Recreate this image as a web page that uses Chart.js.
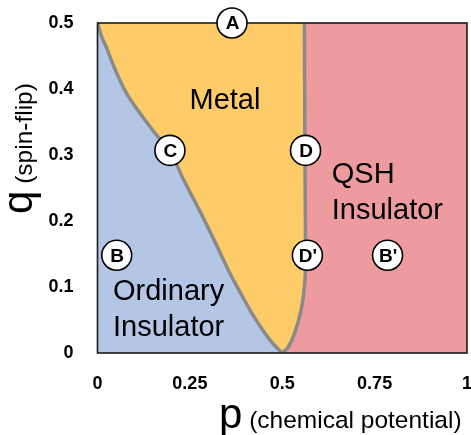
<!DOCTYPE html>
<html>
<head>
<meta charset="utf-8">
<script src="https://cdn.jsdelivr.net/npm/chart.js@4.4.1/dist/chart.umd.min.js"></script>
<style>
  html, body { margin: 0; padding: 0; background: #ffffff; }
  #wrap { width: 471px; height: 435px; }
</style>
</head>
<body>
<div id="wrap"><canvas id="phase" width="471" height="435"></canvas></div>
<script>
// Phase diagram in the (p, q) plane: chemical potential vs spin-flip strength.

// Boundary between the ordinary insulator and the metal (p, q)
const insulatorEdgeP = [0, 0.012, 0.025, 0.04, 0.06, 0.079, 0.1, 0.13, 0.16, 0.196, 0.23, 0.277, 0.32, 0.358, 0.39, 0.42, 0.448, 0.475, 0.5];
const insulatorEdgeQ = [0.5, 0.478, 0.462, 0.44, 0.414, 0.393, 0.375, 0.352, 0.33, 0.307, 0.266, 0.215, 0.166, 0.121, 0.088, 0.058, 0.034, 0.014, 0];

// Boundary between the metal and the QSH insulator (p, q)
const qshEdgeP = [0.5, 0.515, 0.53, 0.542, 0.552, 0.558, 0.562, 0.563, 0.562, 0.561, 0.56];
const qshEdgeQ = [0, 0.008, 0.025, 0.045, 0.068, 0.09, 0.115, 0.15, 0.25, 0.35, 0.5];

// Labelled points of the diagram
const pointNames = ['A', 'B', 'C', 'D', "D'", "B'"];
const pointP = [0.364, 0.052, 0.196, 0.563, 0.568, 0.785];
const pointQ = [0.5, 0.148, 0.307, 0.307, 0.148, 0.148];

// Axis ranges and ticks
const pRange = [0, 1];
const qRange = [0, 0.5];
const pTickValues = [0, 0.25, 0.5, 0.75, 1];
const pTickLabels = ['0', '0.25', '0.5', '0.75', '1'];
const qTickValues = [0, 0.1, 0.2, 0.3, 0.4, 0.5];
const qTickLabels = ['0', '0.1', '0.2', '0.3', '0.4', '0.5'];

const COLORS = {
  insulator: '#b4c6e6',
  metal: '#fecb69',
  qsh: '#ee9b9f',
  edge: '#8a8a8a',
  frame: '#1a1a1a'
};
const FONT = '"Liberation Sans", Arial, Helvetica, sans-serif';

const zip = (xs, ys) => xs.map((x, i) => ({ x, y: ys[i] }));

const insulatorEdge = zip(insulatorEdgeP, insulatorEdgeQ);
const qshEdge = zip(qshEdgeP, qshEdgeQ);
// QSH region: right boundary, then along the top to p = 1, filled down to q = 0
const lastEdge = qshEdge[qshEdge.length - 1];
const qshRegion = qshEdge.concat([
  { x: lastEdge.x + 0.004, y: qRange[1] },
  { x: pRange[1], y: qRange[1] }
]);
const fullTop = [{ x: pRange[0], y: qRange[1] }, { x: pRange[1], y: qRange[1] }];
const markers = zip(pointP, pointQ);

// Region names, anchored (first baseline) in data coordinates
const regionLabels = [
  { lines: ['Metal'], p: 0.345, q: 0.369, align: 'center' },
  { lines: ['QSH', 'Insulator'], p: 0.634, q: 0.258, align: 'left' },
  { lines: ['Ordinary', 'Insulator'], p: 0.042, q: 0.08, align: 'left' }
];

const diagramPlugin = {
  id: 'diagram',
  beforeDatasetDraw(chart, args) {
    // the frame sits below the lettered markers
    if (args.index !== 0) return;
    const a = chart.chartArea;
    const ctx = chart.ctx;
    ctx.save();
    ctx.strokeStyle = COLORS.frame;
    ctx.lineWidth = 1.6;
    ctx.strokeRect(a.left, a.top, a.right - a.left, a.bottom - a.top);
    ctx.restore();
  },
  afterDatasetsDraw(chart) {
    const ctx = chart.ctx;
    const xs = chart.scales.x, ys = chart.scales.y;
    ctx.save();
    // region names
    ctx.fillStyle = '#000';
    ctx.font = '29px ' + FONT;
    ctx.textBaseline = 'alphabetic';
    regionLabels.forEach(l => {
      ctx.textAlign = l.align;
      const x = xs.getPixelForValue(l.p);
      const y = ys.getPixelForValue(l.q);
      l.lines.forEach((t, i) => ctx.fillText(t, x, y + i * 36));
    });
    // letters in the markers
    const meta = chart.getDatasetMeta(0);
    ctx.font = 'bold 19px ' + FONT;
    ctx.textAlign = 'center';
    ctx.textBaseline = 'middle';
    meta.data.forEach((pt, i) => ctx.fillText(pointNames[i], pt.x + 0.5, pt.y + 1));
    ctx.restore();
  },
  afterDraw(chart) {
    // axis titles: large symbol followed by a smaller description
    const ctx = chart.ctx;
    ctx.save();
    ctx.fillStyle = '#000';
    ctx.textBaseline = 'alphabetic';
    ctx.textAlign = 'left';
    // horizontal title
    const bx = 219, by = 428;
    ctx.font = '42px ' + FONT;
    ctx.fillText('p', bx, by);
    const pw = ctx.measureText('p').width;
    ctx.font = '24.5px ' + FONT;
    ctx.fillText(' (chemical potential)', bx + pw, by);
    // vertical title
    ctx.translate(32, 214);
    ctx.rotate(-Math.PI / 2);
    ctx.font = '42px ' + FONT;
    ctx.fillText('q', 0, 0);
    const qw = ctx.measureText('q').width;
    ctx.font = '24.5px ' + FONT;
    ctx.fillText(' (spin-flip)', qw, 0);
    ctx.restore();
  }
};

new Chart(document.getElementById('phase'), {
  type: 'line',
  data: {
    datasets: [
      {
        label: 'points',
        data: markers,
        showLine: false,
        pointRadius: 15,
        pointHoverRadius: 15,
        pointBackgroundColor: '#ffffff',
        pointBorderColor: '#000000',
        pointBorderWidth: 1.6,
        clip: false,
        order: 1
      },
      {
        label: 'insulator edge',
        data: insulatorEdge,
        borderColor: COLORS.edge,
        borderWidth: 3.5,
        pointRadius: 0,
        tension: 0.3,
        fill: false,
        borderCapStyle: 'round',
        order: 2
      },
      {
        label: 'qsh edge',
        data: qshEdge,
        borderColor: COLORS.edge,
        borderWidth: 3.5,
        pointRadius: 0,
        tension: 0.3,
        fill: false,
        borderCapStyle: 'round',
        order: 2
      },
      {
        label: 'ordinary insulator',
        data: insulatorEdge,
        borderWidth: 0,
        pointRadius: 0,
        tension: 0.3,
        backgroundColor: COLORS.insulator,
        fill: 'origin',
        order: 3
      },
      {
        label: 'qsh insulator',
        data: qshRegion,
        borderWidth: 0,
        pointRadius: 0,
        tension: 0.3,
        backgroundColor: COLORS.qsh,
        fill: 'origin',
        order: 3
      },
      {
        label: 'metal',
        data: fullTop,
        borderWidth: 0,
        pointRadius: 0,
        backgroundColor: COLORS.metal,
        fill: 'origin',
        order: 4
      }
    ]
  },
  options: {
    responsive: false,
    animation: false,
    events: [],
    layout: { autoPadding: false, padding: { left: 0, top: 23, right: 4, bottom: 0 } },
    plugins: { legend: { display: false }, tooltip: { enabled: false } },
    scales: {
      x: {
        type: 'linear',
        min: pRange[0],
        max: pRange[1],
        grid: { display: false },
        border: { display: false },
        afterBuildTicks: s => { s.ticks = pTickValues.map(v => ({ value: v })); },
        afterFit: s => { s.height = 82; s.paddingLeft = 0; s.paddingRight = 0; },
        ticks: {
          padding: 12,
          maxRotation: 0,
          autoSkip: false,
          color: '#000',
          font: { family: FONT, size: 18, weight: 'bold' },
          callback: (v, i) => pTickLabels[i]
        }
      },
      y: {
        type: 'linear',
        min: qRange[0],
        max: qRange[1],
        grid: { display: false },
        border: { display: false },
        afterBuildTicks: s => { s.ticks = qTickValues.map(v => ({ value: v })); },
        afterFit: s => { s.width = 97.5; s.paddingTop = 0; s.paddingBottom = 0; },
        ticks: {
          padding: 16,
          autoSkip: false,
          color: '#000',
          font: { family: FONT, size: 18, weight: 'bold' },
          callback: (v, i) => qTickLabels[i]
        }
      }
    }
  },
  plugins: [diagramPlugin]
});
</script>
</body>
</html>
